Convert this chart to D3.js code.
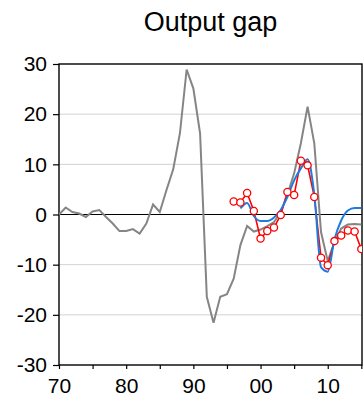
<!DOCTYPE html>
<html>
<head>
<meta charset="utf-8">
<script src="https://cdn.jsdelivr.net/npm/d3@7"></script>
<style>
  body { margin: 0; background: #fff; }
  svg { display: block; font-family: "Liberation Sans", Arial, sans-serif; }
</style>
</head>
<body>
<div class="chart"></div>
<script>
// data
const grayYears = d3.range(1970, 2016);
const grayVals = [0, 1.4, 0.5, 0.2, -0.5, 0.6, 0.9, -0.5, -1.8, -3.3,
  -3.3, -2.9, -3.8, -1.8, 2.0, 0.5, 4.9, 9.0, 16.2, 28.9,
  25.1, 16.2, -16.4, -21.6, -16.4, -15.9, -12.8, -6.1, -2.3, -3.4,
  -3.0, -2.3, -1.5, 0.5, 4.0, 8.2, 14.2, 21.5, 14.2, -3.5,
  -9.3, -5.5, -2.8, -2.0, -1.9, -2.0];

const redYears = d3.range(1996, 2016);
const redVals = [2.6, 2.4, 4.3, 0.7, -4.8, -3.3, -2.6, -0.1, 4.5, 3.9,
  10.7, 9.8, 3.5, -8.6, -10.1, -5.3, -4.2, -3.2, -3.4, -6.9];

const blueYears = d3.range(1997, 2016);
const blueVals = [1.2, 2.3, -0.3, -1.3, -1.3, -0.6, 0.9, 3.5, 6.8, 9.2,
  11.0, 4.0, -10.5, -11.4, -5.0, -1.2, 0.8, 1.3, 1.3];

const yTicks = [-30, -20, -10, 0, 10, 20, 30];
const xTicks = [1970, 1980, 1990, 2000, 2010];
const xMinor = [1975, 1985, 1995, 2005, 2015];
const xLabel = d => String(d % 100).padStart(2, "0");

// layout
const W = 364, H = 401;
const m = {left: 59, right: 362, top: 64, bottom: 365};

const x = d3.scaleLinear().domain([1970, 2015.1]).range([m.left, m.right]);
const y = d3.scaleLinear().domain([-30, 30]).range([m.bottom, m.top]);

const svg = d3.select(".chart").append("svg")
  .attr("width", W)
  .attr("height", H);

svg.append("defs").append("clipPath").attr("id", "plot")
  .append("rect")
  .attr("x", m.left).attr("y", m.top)
  .attr("width", m.right - m.left).attr("height", m.bottom - m.top);

// title
svg.append("text")
  .attr("x", (m.left + m.right) / 2)
  .attr("y", 31)
  .attr("text-anchor", "middle")
  .attr("font-size", 27)
  .text("Output gap");

// grid
svg.append("g")
  .selectAll("line")
  .data(yTicks.filter(d => d !== 0 && Math.abs(d) !== 30))
  .join("line")
  .attr("x1", m.left).attr("x2", m.right)
  .attr("y1", d => y(d)).attr("y2", d => y(d))
  .attr("stroke", "#d2d2d2")
  .attr("stroke-width", 1);

// zero line
svg.append("line")
  .attr("x1", m.left).attr("x2", m.right)
  .attr("y1", y(0)).attr("y2", y(0))
  .attr("stroke", "#000")
  .attr("stroke-width", 1);

// axes
const yAxis = d3.axisLeft(y).tickValues(yTicks).tickSize(6).tickPadding(6)
  .tickFormat(d => String(d));
const xAxis = d3.axisBottom(x).tickValues(xTicks.concat(xMinor)).tickSize(4)
  .tickFormat(d => xTicks.includes(d) ? xLabel(d) : "");

const gy = svg.append("g")
  .attr("transform", "translate(" + m.left + ",0)")
  .call(yAxis);
gy.selectAll("text").attr("font-size", 21).attr("fill", "#000");

const gx = svg.append("g")
  .attr("transform", "translate(0," + m.bottom + ")")
  .call(xAxis);
gx.selectAll("text").attr("font-size", 21).attr("fill", "#000").attr("dy", "1.0em");

svg.selectAll(".domain").remove();
svg.selectAll(".tick line").attr("stroke", "#000").attr("stroke-width", 1.2);

// frame
svg.append("rect")
  .attr("x", m.left).attr("y", m.top)
  .attr("width", m.right - m.left).attr("height", m.bottom - m.top)
  .attr("fill", "none")
  .attr("stroke", "#000")
  .attr("stroke-width", 1.4);

const plot = svg.append("g").attr("clip-path", "url(#plot)");

const line = d3.line()
  .x(d => x(d[0]))
  .y(d => y(d[1]));

plot.append("path")
  .datum(d3.zip(grayYears, grayVals))
  .attr("d", line)
  .attr("fill", "none")
  .attr("stroke", "#858585")
  .attr("stroke-width", 2);

const redData = d3.zip(redYears, redVals);
plot.append("path")
  .datum(redData)
  .attr("d", line)
  .attr("fill", "none")
  .attr("stroke", "#ff0000")
  .attr("stroke-width", 1.6);

plot.append("path")
  .datum(d3.zip(blueYears, blueVals))
  .attr("d", line.curve(d3.curveMonotoneX))
  .attr("fill", "none")
  .attr("stroke", "#1f7be0")
  .attr("stroke-width", 2);

plot.append("g")
  .selectAll("circle")
  .data(redData)
  .join("circle")
  .attr("cx", d => x(d[0]))
  .attr("cy", d => y(d[1]))
  .attr("r", 3.6)
  .attr("fill", "#fff")
  .attr("stroke", "#ff0000")
  .attr("stroke-width", 1.3);
</script>
</body>
</html>
